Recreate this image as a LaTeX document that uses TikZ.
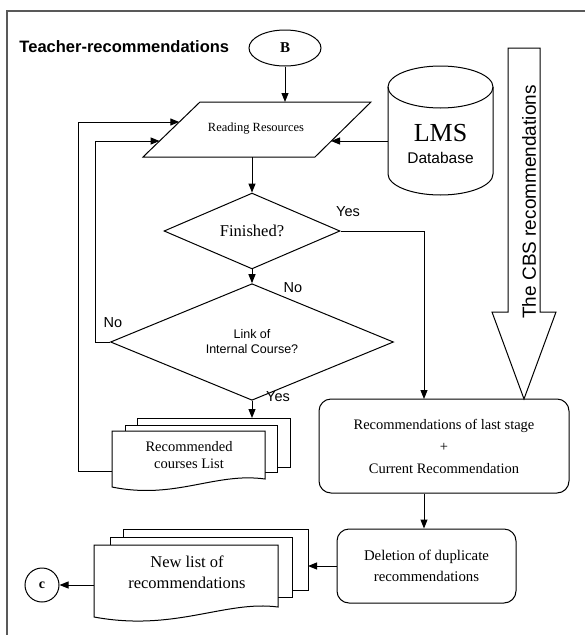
\documentclass[tikz,border=0pt]{standalone}
\usepackage{fontspec}
\setmainfont{Liberation Serif}
\setsansfont{Liberation Sans}
\usetikzlibrary{shapes.geometric,arrows.meta}
\begin{document}
\begin{tikzpicture}[x=1pt,y=-1pt,
  line width=1pt,
  arr/.style={-{Triangle[length=9pt,width=7pt]}},
  lbl/.style={font=\sffamily\fontsize{14.5}{16}\selectfont, inner sep=0pt},
  sertext/.style={font=\fontsize{14.5}{21}\selectfont, align=center, inner sep=0pt},
  sheet/.style={draw, fill=white},
  decision/.style={draw, diamond, inner sep=0pt, align=center},
  procbox/.style={draw, rounded corners=12pt, align=center, inner sep=0pt},
]
\useasboundingbox (0,0) rectangle (585,635);
\draw[line width=2pt, black!65] (7,635) -- (7,11) -- (585,11);

% title
\node[anchor=west, inner sep=0pt, font=\sffamily\bfseries\fontsize{16.5}{18}\selectfont] (title) at (19,47) {Teacher-recommendations};

% B terminal
\node[draw, ellipse, minimum width=72pt, minimum height=36pt, inner sep=0pt,
      font=\bfseries\fontsize{15}{16}\selectfont] (B) at (285,48) {B};

% Reading Resources (parallelogram)
\coordinate (p1) at (200,102);
\coordinate (p2) at (371,102);
\coordinate (p3) at (315,157);
\coordinate (p4) at (143,157);
\draw (p1) -- (p2) -- (p3) -- (p4) -- cycle;
\node[inner sep=0pt, font=\fontsize{12.5}{14}\selectfont] (rr) at (256,129) {Reading Resources};
\coordinate (rrTop) at (285,102);
\coordinate (rrBot) at (252,157);
\coordinate (rrIn1) at (179.3,122);
\coordinate (rrIn2) at (159.6,141);
\coordinate (rrR) at (331,141);

% LMS database (cylinder)
\draw (388,87) -- (388,174) arc[start angle=180, end angle=360, x radius=52.5pt, y radius=21pt] -- (493,87);
\draw (440.5,87) ellipse [x radius=52.5pt, y radius=21pt];
\node[inner sep=0pt, font=\fontsize{26}{28}\selectfont] (lms) at (440.5,133) {LMS};
\node[inner sep=0pt, font=\sffamily\fontsize{15.5}{17}\selectfont] (db) at (440.5,158) {Database};
\coordinate (lmsL) at (388,141);

% CBS arrow
\draw (508,48) -- (540,48) -- (540,312) -- (556,312) -- (524,399) -- (492,312) -- (508,312) -- cycle;
\node[rotate=90, inner sep=0pt, font=\sffamily\fontsize{19}{20}\selectfont] (cbs) at (529,202) {The CBS recommendations};

% decisions
\node[decision, minimum width=176pt, minimum height=74pt, font=\fontsize{16.5}{18}\selectfont] (fin) at (252,231) {Finished?};
\node[decision, minimum width=283pt, minimum height=72pt, font=\sffamily\fontsize{12.5}{15}\selectfont] (link) at (252,342) {Link of\\Internal Course?};

% Recommended courses list (multi-document)
\draw[sheet] (137,418) rectangle (290,467);
\draw[sheet] (125,425) rectangle (277,472);
\draw[sheet] (112,431) -- (265,431) -- (265,479) .. controls (215,472) and (175,500) .. (112,487) -- cycle;
\node[sertext, font=\fontsize{14.5}{17}\selectfont] (doc1) at (189,455) {Recommended\\courses List};
\coordinate (doc1Top) at (252,418);
\coordinate (doc1L) at (112,471);

% process boxes
\node[procbox, minimum width=250pt, minimum height=94pt, font=\fontsize{14.5}{22}\selectfont] (rec) at (444,446)
  {Recommendations of last stage\\+\\Current Recommendation};
\node[procbox, minimum width=179pt, minimum height=74pt, font=\fontsize{14.8}{21}\selectfont] (del) at (426.5,566)
  {Deletion of duplicate\\recommendations};
\coordinate (recIn) at (424,399);

% New list of recommendations (multi-document)
\draw[sheet] (123,529) rectangle (308,590);
\draw[sheet] (110,537) rectangle (292,597);
\draw[sheet] (94,545) -- (278,545) -- (278,607) .. controls (225,600) and (175,632) .. (94,617) -- cycle;
\node[sertext, font=\fontsize{16.5}{21}\selectfont] (doc2) at (187,572) {New list of\\recommendations};
\coordinate (doc2R) at (308,566);
\coordinate (doc2L) at (94,585);

% connector C
\node[draw, circle, minimum size=34pt, inner sep=0pt, font=\bfseries\fontsize{14}{15}\selectfont] (C) at (42,585) {c};

% connectors
\draw[arr] (B.south) -- (rrTop);
\draw[arr] (lmsL) -- (rrR);
\draw[arr] (rrBot) -- (fin.north);
\draw[arr] (fin.south) -- (link.north);
\draw[arr] (fin.east) -- (fin.east -| recIn) -- (recIn);
\draw[arr] (link.west) -- ++(-15,0) |- (rrIn2);
\draw[arr] (link.south) -- (doc1Top);
\draw[arr] (doc1L) -- ++(-34,0) |- (rrIn1);
\draw[arr] (rec.south -| recIn) -- (del.north -| recIn);
\draw[arr] (del.west |- doc2R) -- (doc2R);
\draw[arr] (doc2L) -- (C.east);

% labels
\node[lbl] (yes1) at (348,212) {Yes};
\node[lbl] (no1) at (293,288) {No};
\node[lbl] (no2) at (113,323) {No};
\node[lbl] (yes2) at (278,397) {Yes};
\end{tikzpicture}
\end{document}
